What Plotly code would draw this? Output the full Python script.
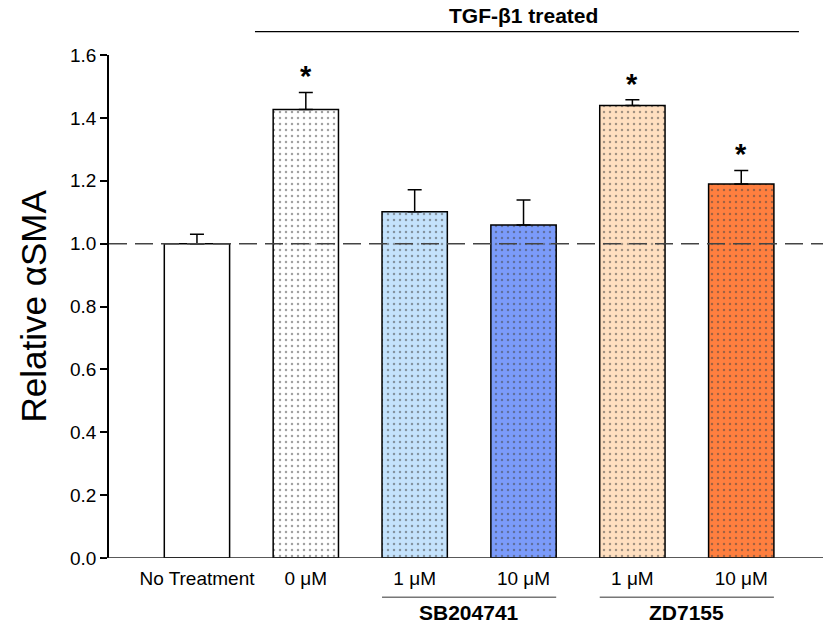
import plotly.graph_objects as go

categories = ["No Treatment", "0 μM", "1 μM", "10 μM", "1 μM", "10 μM"]
values = [1.00, 1.427, 1.101, 1.059, 1.439, 1.190]
errors = [0.030, 0.054, 0.070, 0.080, 0.019, 0.043]
colors = ["#ffffff", "#ffffff", "#c4e2fc", "#7b9bfa", "#ffdfc0", "#ff7f3f"]
patterned = [False, True, True, True, True, True]
significant = [False, True, False, False, True, True]
groups = [("SB204741", 2, 3), ("ZD7155", 4, 5)]
top_label = "TGF-β1 treated"
y_ticks = [0.0, 0.2, 0.4, 0.6, 0.8, 1.0, 1.2, 1.4, 1.6]

FONT = "Arial, Liberation Sans, sans-serif"
xpos = list(range(len(categories)))
bar_w = 0.6

fig = go.Figure()
fig.add_trace(go.Bar(
    x=xpos, y=values, width=bar_w,
    marker=dict(
        color=colors,
        line=dict(color="black", width=1.5),
        pattern=dict(
            shape=["." if p else "" for p in patterned],
            fgcolor="#111111", size=6, solidity=0.14,
            fillmode="overlay",
        ),
    ),
    error_y=dict(type="data", symmetric=False, array=errors,
                 arrayminus=[0] * len(errors), color="black",
                 thickness=1.5, width=7),
    showlegend=False,
))

x0, x1 = -0.808, 5.751
fig.update_layout(
    width=823, height=624,
    margin=dict(l=109, r=0, t=55, b=66),
    plot_bgcolor="white", paper_bgcolor="white",
    font=dict(family=FONT, color="black"),
    xaxis=dict(range=[x0, x1], tickvals=xpos, ticktext=categories,
               showline=False, showgrid=False, zeroline=False, ticks="",
               ticklabelstandoff=7,
               tickfont=dict(size=19, family=FONT, color="black")),
    yaxis=dict(range=[0, 1.6], tickvals=y_ticks,
               ticktext=[f"{v:.1f}" for v in y_ticks],
               showline=True, linecolor="black", linewidth=1.5,
               ticks="outside", ticklen=7, tickwidth=1.5, tickcolor="black",
               showgrid=False, zeroline=False,
               tickfont=dict(size=19, family=FONT, color="black")),
    bargap=0.4,
)

span = x1 - x0
def px(xd):
    return (xd - x0) / span

shapes = []
# x axis baseline (extends slightly left of y axis like the original)
shapes.append(dict(type="line", xref="paper", yref="y", x0=-7 / 714, x1=1,
                   y0=0, y1=0, line=dict(color="#222222", width=1.5)))
# dashed reference line at 1.0
shapes.append(dict(type="line", xref="paper", yref="y", x0=0, x1=1,
                   y0=1.0, y1=1.0, layer="above",
                   line=dict(color="#444444", width=1.5, dash="18px,8px")))
# TGF-b1 treated bracket
shapes.append(dict(type="line", xref="paper", yref="paper",
                   x0=px(0.533), x1=px(5.53), y0=1.0464, y1=1.0464,
                   line=dict(color="black", width=1.2)))
annotations = [dict(text=f"<b>{top_label}</b>", xref="paper", yref="paper",
                    x=px(3.0), y=1.078, yanchor="middle", showarrow=False,
                    font=dict(size=21, family=FONT, color="black"))]
# y-axis title
annotations.append(dict(text="Relative αSMA", xref="paper", yref="paper",
                        x=-76 / 714, y=0.5, xanchor="center", yanchor="middle",
                        textangle=-90, showarrow=False,
                        font=dict(size=35, family=FONT, color="black")))
for name, a, b in groups:
    shapes.append(dict(type="line", xref="paper", yref="paper",
                       x0=px(a - bar_w / 2), x1=px(b + bar_w / 2),
                       y0=-0.078, y1=-0.078,
                       line=dict(color="#777777", width=1.5)))
    annotations.append(dict(text=f"<b>{name}</b>", xref="x", yref="paper",
                            x=(a + b) / 2, y=-0.109, yanchor="middle",
                            showarrow=False,
                            font=dict(size=21, family=FONT, color="black")))
for i, s in enumerate(significant):
    if s:
        annotations.append(dict(text="<b>*</b>", x=xpos[i],
                                y=values[i] + errors[i], yref="y", xref="x",
                                yanchor="bottom", yshift=-2, showarrow=False,
                                font=dict(size=29, family=FONT, color="black")))

fig.update_layout(shapes=shapes, annotations=annotations)
fig.write_html("out.html")
